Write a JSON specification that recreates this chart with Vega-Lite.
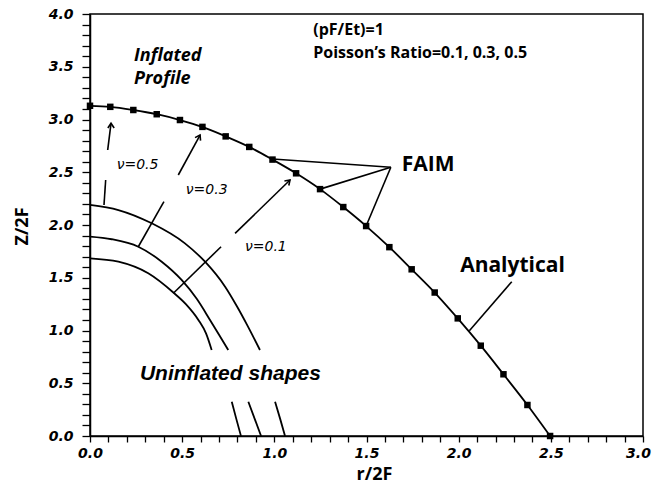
{
  "$schema": "https://vega.github.io/schema/vega-lite/v6.json",
  "width": 553,
  "height": 422,
  "autosize": {"type": "none"},
  "padding": {"left": 90, "top": 14, "right": 11, "bottom": 53},
  "background": "white",
  "config": {
    "view": {"stroke": "black", "strokeWidth": 1.5},
    "axis": {"grid": false, "domainColor": "black", "domainWidth": 1.5, "tickColor": "black", "tickWidth": 1.3, "labelColor": "black", "titleColor": "black"}
  },
  "datasets": {
    "arcs": [
      {"seg": "o1", "x": 0, "y": 2.19}, {"seg": "o1", "x": 0.154, "y": 2.142}, {"seg": "o1", "x": 0.335, "y": 2.016}, {"seg": "o1", "x": 0.515, "y": 1.826}, {"seg": "o1", "x": 0.624, "y": 1.652}, {"seg": "o1", "x": 0.733, "y": 1.415}, {"seg": "o1", "x": 0.8, "y": 1.22}, {"seg": "o1", "x": 0.85, "y": 1.06}, {"seg": "o1", "x": 0.922, "y": 0.815},
      {"seg": "o2", "x": 1.004, "y": 0.325}, {"seg": "o2", "x": 1.032, "y": 0.16}, {"seg": "o2", "x": 1.058, "y": 0},
      {"seg": "m1", "x": 0, "y": 1.89}, {"seg": "m1", "x": 0.118, "y": 1.865}, {"seg": "m1", "x": 0.262, "y": 1.794}, {"seg": "m1", "x": 0.389, "y": 1.652}, {"seg": "m1", "x": 0.497, "y": 1.479}, {"seg": "m1", "x": 0.579, "y": 1.3}, {"seg": "m1", "x": 0.651, "y": 1.1}, {"seg": "m1", "x": 0.7, "y": 0.96}, {"seg": "m1", "x": 0.75, "y": 0.815},
      {"seg": "m2", "x": 0.859, "y": 0.325}, {"seg": "m2", "x": 0.894, "y": 0.16}, {"seg": "m2", "x": 0.928, "y": 0},
      {"seg": "i1", "x": 0, "y": 1.684}, {"seg": "i1", "x": 0.154, "y": 1.652}, {"seg": "i1", "x": 0.316, "y": 1.542}, {"seg": "i1", "x": 0.452, "y": 1.36}, {"seg": "i1", "x": 0.52, "y": 1.25}, {"seg": "i1", "x": 0.588, "y": 1.1}, {"seg": "i1", "x": 0.63, "y": 0.97}, {"seg": "i1", "x": 0.66, "y": 0.815},
      {"seg": "i2", "x": 0.769, "y": 0.325}, {"seg": "i2", "x": 0.794, "y": 0.16}, {"seg": "i2", "x": 0.819, "y": 0}
    ],
    "analytic": [
      {"x": 0, "y": 3.13}, {"x": 0.11, "y": 3.12}, {"x": 0.235, "y": 3.09}, {"x": 0.362, "y": 3.05}, {"x": 0.488, "y": 2.995}, {"x": 0.61, "y": 2.93}, {"x": 0.736, "y": 2.84}, {"x": 0.864, "y": 2.74}, {"x": 0.99, "y": 2.62}, {"x": 1.118, "y": 2.49}, {"x": 1.248, "y": 2.34}, {"x": 1.374, "y": 2.17}, {"x": 1.498, "y": 1.99}, {"x": 1.624, "y": 1.79}, {"x": 1.745, "y": 1.58}, {"x": 1.87, "y": 1.36}, {"x": 1.995, "y": 1.115}, {"x": 2.12, "y": 0.856}, {"x": 2.243, "y": 0.585}, {"x": 2.373, "y": 0.294}, {"x": 2.496, "y": 0}
    ],
    "ann": [
      {"seg": "a5", "o": 1, "x": 0.096, "y": 2.711}, {"seg": "a5", "o": 2, "x": 0.114, "y": 2.964},
      {"seg": "l5", "o": 1, "x": 0.085, "y": 2.427}, {"seg": "l5", "o": 2, "x": 0.076, "y": 2.19},
      {"seg": "a3", "o": 1, "x": 0.479, "y": 2.474}, {"seg": "a3", "o": 2, "x": 0.597, "y": 2.853},
      {"seg": "l3", "o": 1, "x": 0.401, "y": 2.221}, {"seg": "l3", "o": 2, "x": 0.262, "y": 1.794},
      {"seg": "a1", "o": 1, "x": 0.787, "y": 1.92}, {"seg": "a1", "o": 2, "x": 1.085, "y": 2.427},
      {"seg": "l1", "o": 1, "x": 0.711, "y": 1.794}, {"seg": "l1", "o": 2, "x": 0.452, "y": 1.353},
      {"seg": "f1", "o": 1, "x": 1.632, "y": 2.547}, {"seg": "f1", "o": 2, "x": 0.991, "y": 2.626},
      {"seg": "f2", "o": 1, "x": 1.632, "y": 2.547}, {"seg": "f2", "o": 2, "x": 1.248, "y": 2.34},
      {"seg": "f3", "o": 1, "x": 1.632, "y": 2.547}, {"seg": "f3", "o": 2, "x": 1.498, "y": 1.99},
      {"seg": "an", "o": 1, "x": 2.288, "y": 1.463}, {"seg": "an", "o": 2, "x": 2.058, "y": 0.998}
    ],
    "heads": [
      {"x": 0.114, "y": 2.964, "ang": 0},
      {"x": 0.597, "y": 2.853, "ang": 28.5},
      {"x": 1.085, "y": 2.427, "ang": 45.9}
    ],
    "inflated": [
      {"t": "Inflated", "x": 0.239, "y": 3.6},
      {"t": "Profile", "x": 0.239, "y": 3.385}
    ],
    "uninfl": [{"t": "Uninflated shapes", "x": 0.271, "y": 0.588}],
    "nu": [
      {"t": "ν=0.5", "x": 0.258, "y": 2.569},
      {"t": "ν=0.3", "x": 0.633, "y": 2.332},
      {"t": "ν=0.1", "x": 0.954, "y": 1.794}
    ],
    "info": [
      {"t": "(pF/Et)=1", "x": 1.211, "y": 3.845},
      {"t": "Poisson’s Ratio=0.1, 0.3, 0.5", "x": 1.211, "y": 3.635}
    ],
    "big": [
      {"t": "FAIM", "x": 1.691, "y": 2.569},
      {"t": "Analytical", "x": 2.008, "y": 1.614}
    ]
  },
  "encoding": {
    "x": {"field": "x", "type": "quantitative", "scale": {"domain": [0, 3], "nice": false, "zero": true},
      "axis": {"title": "r/2F", "values": [0,0.1,0.2,0.3,0.4,0.5,0.6,0.7,0.8,0.9,1.0,1.1,1.2,1.3,1.4,1.5,1.6,1.7,1.8,1.9,2.0,2.1,2.2,2.3,2.4,2.5,2.6,2.7,2.8,2.9,3.0],
        "labelExpr": "abs(datum.value*2 - round(datum.value*2)) < 0.001 ? format(datum.value, '.1f') : ''",
        "labelOverlap": false, "labelFlush": false,
        "labelOffset": {"condition": {"test": "datum.value > 2.95", "value": -5}, "value": 0},
        "labelFont": "DejaVu Sans", "labelFontWeight": "bold", "labelFontStyle": "italic", "labelFontSize": 14, "labelPadding": 4,
        "tickSize": 6,
        "titleFont": "Open Sans", "titleFontWeight": "bold", "titleFontSize": 18,
        "titleX": 284, "titleY": 38, "titleBaseline": "middle", "titleAlign": "center"}},
    "y": {"field": "y", "type": "quantitative", "scale": {"domain": [0, 4], "nice": false, "zero": true},
      "axis": {"title": "Z/2F", "values": [0,0.1,0.2,0.3,0.4,0.5,0.6,0.7,0.8,0.9,1.0,1.1,1.2,1.3,1.4,1.5,1.6,1.7,1.8,1.9,2.0,2.1,2.2,2.3,2.4,2.5,2.6,2.7,2.8,2.9,3.0,3.1,3.2,3.3,3.4,3.5,3.6,3.7,3.8,3.9,4.0],
        "labelExpr": "abs(datum.value*2 - round(datum.value*2)) < 0.001 ? format(datum.value, '.1f') : ''",
        "labelOverlap": false, "labelFlush": false,
        "labelFont": "DejaVu Sans", "labelFontWeight": "bold", "labelFontStyle": "italic", "labelFontSize": 14, "labelPadding": 9,
        "tickSize": 8,
        "titleFont": "Open Sans", "titleFontWeight": "bold", "titleFontSize": 18,
        "titleX": -68, "titleY": 212, "titleBaseline": "middle", "titleAlign": "center"}}
  },
  "layer": [
    {
      "data": {"name": "arcs"},
      "mark": {"type": "line", "color": "black", "strokeWidth": 1.8, "interpolate": "monotone"},
      "encoding": {"detail": {"field": "seg", "type": "nominal"}}
    },
    {
      "data": {"name": "analytic"},
      "mark": {"type": "line", "color": "black", "strokeWidth": 1.8, "interpolate": "monotone"}
    },
    {
      "data": {"name": "analytic"},
      "mark": {"type": "point", "shape": "square", "filled": true, "color": "black", "size": 42, "opacity": 1}
    },
    {
      "data": {"name": "ann"},
      "mark": {"type": "line", "color": "black", "strokeWidth": 1.6},
      "encoding": {"detail": {"field": "seg", "type": "nominal"}, "order": {"field": "o", "type": "quantitative"}}
    },
    {
      "data": {"name": "heads"},
      "mark": {"type": "point", "shape": "M-0.6,0.9L0,0L0.6,0.9", "filled": false, "stroke": "black", "strokeWidth": 1.6, "size": 110, "opacity": 1},
      "encoding": {"angle": {"field": "ang", "type": "quantitative", "scale": null}}
    },
    {
      "data": {"name": "inflated"},
      "mark": {"type": "text", "font": "Open Sans", "fontWeight": "bold", "fontStyle": "italic", "fontSize": 18, "align": "left", "baseline": "middle", "color": "black"},
      "encoding": {"text": {"field": "t"}}
    },
    {
      "data": {"name": "uninfl"},
      "mark": {"type": "text", "font": "Liberation Sans", "fontWeight": "bold", "fontStyle": "italic", "fontSize": 21, "align": "left", "baseline": "middle", "color": "black"},
      "encoding": {"text": {"field": "t"}}
    },
    {
      "data": {"name": "nu"},
      "mark": {"type": "text", "font": "DejaVu Sans", "fontStyle": "italic", "fontSize": 14, "align": "center", "baseline": "middle", "color": "black"},
      "encoding": {"text": {"field": "t"}}
    },
    {
      "data": {"name": "info"},
      "mark": {"type": "text", "font": "Open Sans", "fontWeight": "bold", "fontSize": 16, "align": "left", "baseline": "middle", "color": "black"},
      "encoding": {"text": {"field": "t"}}
    },
    {
      "data": {"name": "big"},
      "mark": {"type": "text", "font": "Open Sans", "fontWeight": "bold", "fontSize": 21, "align": "left", "baseline": "middle", "color": "black"},
      "encoding": {"text": {"field": "t"}}
    }
  ]
}
